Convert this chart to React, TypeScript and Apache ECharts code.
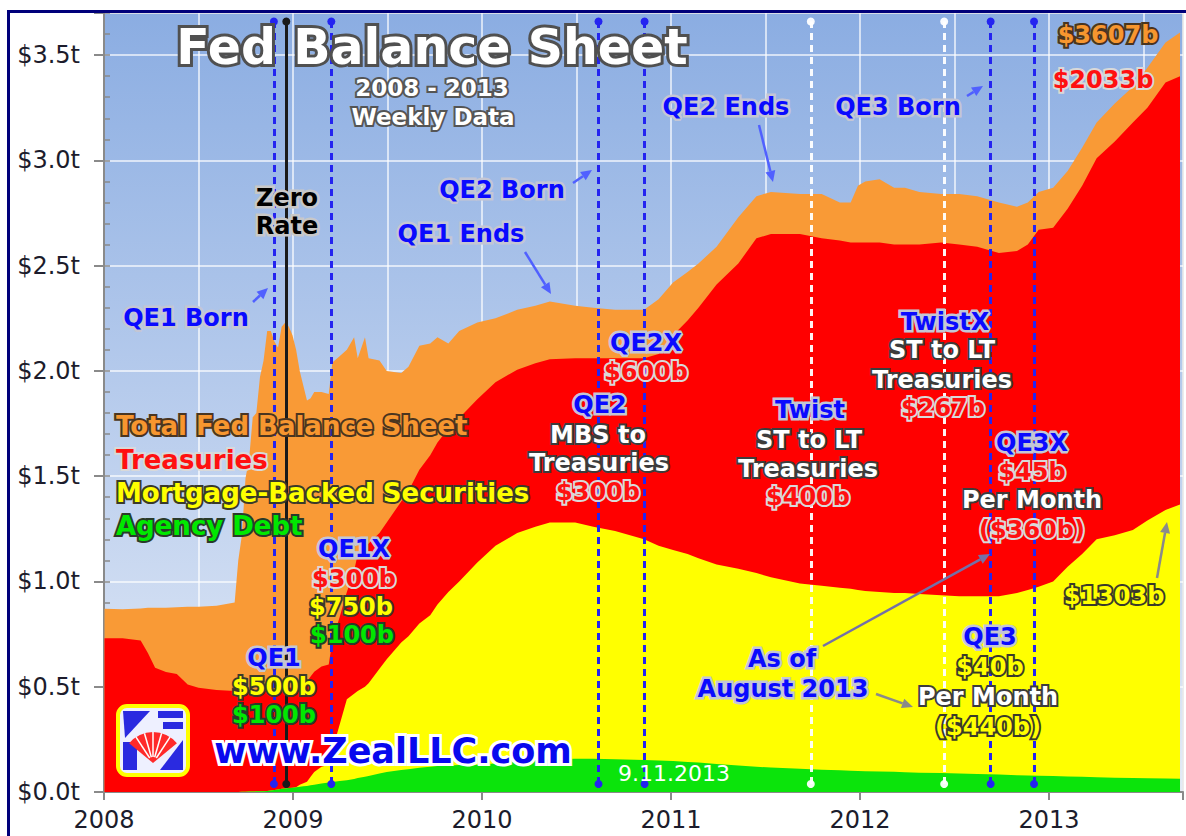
import React, { useEffect, useRef } from 'react';
import * as echarts from 'echarts';

// ---- DATA (billions of dollars, weekly H.4.1 readings, sampled) ----
const weeks = [
  '2008-01-02','2008-02-06','2008-03-12','2008-03-26','2008-04-09','2008-04-30','2008-05-21','2008-06-11','2008-07-02','2008-08-06',
  '2008-09-10','2008-09-17','2008-09-24','2008-10-01','2008-10-08','2008-10-15','2008-10-22','2008-10-29','2008-11-05','2008-11-12',
  '2008-11-19','2008-11-26','2008-12-03','2008-12-10','2008-12-17','2008-12-24','2008-12-31','2009-01-07','2009-01-14','2009-01-21',
  '2009-01-28','2009-02-04','2009-02-11','2009-02-25','2009-03-11','2009-03-18','2009-04-01','2009-04-15','2009-04-29','2009-05-06',
  '2009-05-20','2009-05-27','2009-06-17','2009-07-01','2009-07-29','2009-08-12','2009-09-02','2009-09-23','2009-10-07','2009-10-28',
  '2009-11-18','2009-12-23','2010-01-27','2010-03-10','2010-04-14','2010-05-12','2010-06-30','2010-08-04','2010-09-15','2010-11-10',
  '2010-12-08','2011-01-05','2011-02-02','2011-02-23','2011-03-30','2011-05-11','2011-06-15','2011-07-13','2011-09-07','2011-10-19',
  '2011-11-23','2011-12-14','2011-12-28','2012-01-11','2012-02-08','2012-03-07','2012-03-28','2012-04-25','2012-06-06','2012-07-11',
  '2012-08-15','2012-09-26','2012-10-31','2012-11-21','2012-12-12','2013-01-09','2013-02-06','2013-03-06','2013-04-03','2013-05-08',
  '2013-06-12','2013-07-10','2013-08-14','2013-09-11'
];

const totalB = [
  870,868,872,875,875,875,878,880,880,885,
  900,1100,1220,1490,1580,1780,1800,1970,2050,2190,
  2190,2140,2110,2210,2230,2210,2170,2100,2000,1930,
  1860,1870,1900,1900,1890,2040,2070,2100,2160,2060,
  2160,2060,2050,2000,1990,2020,2120,2130,2160,2130,
  2190,2230,2250,2290,2310,2330,2310,2300,2290,2290,
  2340,2420,2470,2510,2590,2730,2830,2850,2840,2840,
  2800,2800,2880,2900,2910,2870,2870,2850,2840,2840,
  2830,2800,2780,2800,2850,2870,2950,3060,3180,3270,
  3350,3440,3560,3607
];

const treasuriesB = [
  730,730,720,660,590,570,560,510,495,485,
  480,480,480,476,476,476,476,476,476,476,
  476,476,476,476,476,476,476,476,476,476,
  476,476,476,476,476,520,510,510,583,650,
  660,664,645,650,670,690,730,760,770,776,
  776,776,776,776,776,776,780,800,820,860,
  910,1020,1110,1190,1330,1450,1590,1630,1660,1650,
  1650,1645,1650,1655,1660,1655,1655,1660,1675,1670,
  1660,1630,1625,1640,1695,1680,1700,1750,1810,1870,
  1935,1960,2030,2033
];

const mbsB = [
  0,0,0,0,0,0,0,0,0,0,
  0,0,0,0,0,0,0,0,0,0,
  0,0,0,0,0,0,0,0,10,15,
  20,40,60,80,85,150,268,384,405,414,
  428,440,497,535,606,632,685,720,767,824,
  872,960,1035,1085,1108,1124,1122,1102,1084,1048,
  1020,1003,987,970,947,934,920,904,880,874,
  867,864,860,856,853,849,851,848,845,842,
  845,847,865,882,898,924,996,1058,1130,1152,
  1179,1225,1276,1303
];

const agencyB = [
  0,0,0,0,0,0,0,0,0,0,
  0,0,1,1,2,2,3,3,3,5,
  7,10,12,15,17,19,20,22,25,27,
  29,32,35,40,45,48,52,56,62,66,
  72,76,88,95,104,108,115,120,123,126,
  128,130,135,145,152,156,158,158,156,152,
  150,147,143,140,133,126,120,116,110,106,
  103,101,100,99,97,96,94,92,90,88,
  85,83,80,78,77,76,74,72,70,68,
  66,65,64,63
];

const yearLabels = [2008, 2009, 2010, 2011, 2012, 2013];
const yTickValues = [0, 0.5, 1, 1.5, 2, 2.5, 3, 3.5];

const events = [
  { date: '2008-11-25', kind: 'blue' },
  { date: '2008-12-19', kind: 'black' },
  { date: '2009-03-16', kind: 'blue' },
  { date: '2010-08-14', kind: 'blue' },
  { date: '2010-11-11', kind: 'blue' },
  { date: '2011-09-28', kind: 'white' },
  { date: '2012-06-12', kind: 'white' },
  { date: '2012-09-10', kind: 'blue' },
  { date: '2012-12-03', kind: 'blue' },
];

// ---- helpers ----
function toYear(s: string): number {
  const [y, m, d] = s.split('-').map(Number);
  const t = Date.UTC(y, m - 1, d);
  const a = Date.UTC(y, 0, 1);
  const b = Date.UTC(y + 1, 0, 1);
  return y + (t - a) / (b - a);
}

const FONT = '"DejaVu Sans", Verdana, sans-serif';

function txt(text: string, x: number, y: number, size: number, fill: string, stroke: string, lw = 4, extra: any = {}) {
  return {
    type: 'text',
    x, y, z: 100, silent: true,
    style: {
      text,
      font: `bold ${size}px ${FONT}`,
      fill, stroke, lineWidth: lw,
      align: extra.align || 'center', textAlign: extra.align || 'center',
      verticalAlign: 'middle', textVerticalAlign: 'middle',
      shadowColor: extra.shadowColor || 'rgba(0,0,0,0.35)',
      shadowBlur: extra.shadowBlur ?? 2,
      shadowOffsetX: extra.sx ?? 1,
      shadowOffsetY: extra.sy ?? 1,
    },
  };
}

function arrow(x1: number, y1: number, x2: number, y2: number, color: string, w = 2.5) {
  const ang = Math.atan2(y2 - y1, x2 - x1);
  const L = 11, W = 5;
  const bx = x2 - L * Math.cos(ang), by = y2 - L * Math.sin(ang);
  const px = -Math.sin(ang) * W, py = Math.cos(ang) * W;
  return [
    { type: 'line', z: 90, silent: true, shape: { x1, y1, x2: bx, y2: by }, style: { stroke: color, lineWidth: w } },
    { type: 'polygon', z: 90, silent: true, shape: { points: [[x2, y2], [bx + px, by + py], [bx - px, by - py]] }, style: { fill: color } },
  ];
}

const BLUE = '#0a0aff', BH = '#c4c6d4';
const WHITE = '#ffffff', WH = '#3c3c3c';
const RED = '#ff1010', RH = '#d9d9d9';
const YEL = '#ffff00', YH = '#3a3a2a';
const GRN = '#00e800', GH = '#2a3a2a';
const ORG = '#f7962f', OH = '#4a3520';
const S = 24; // annotation font size

export default function App() {
  const ref = useRef<HTMLDivElement>(null);

  useEffect(() => {
    if (!ref.current) return;
    const chart = echarts.init(ref.current, undefined, { renderer: 'svg', width: 1186, height: 836 });

    const X = weeks.map(toYear);
    // cumulative layer tops (stack order: agency, MBS, treasuries, rest of balance sheet)
    const topGreen = agencyB.map((v) => v);
    const topYellow = agencyB.map((v, i) => v + mbsB[i]);
    const topRed = agencyB.map((v, i) => v + mbsB[i] + treasuriesB[i]);
    const topOrange = totalB.map((v) => v);
    const mk = (arr: number[]) => arr.map((v, i) => [X[i], v / 1000]);
    const xMin = 2008, xMax = 2013.709, yMax = 3.7;

    const area = (name: string, arr: number[], color: string, z: number, extra: any = {}) => ({
      type: 'line', name, data: mk(arr), symbol: 'none', silent: true, z,
      lineStyle: { width: 0, color }, itemStyle: { color },
      areaStyle: { color, opacity: 1, origin: 'start' }, ...extra,
    });

    const evColor: any = { blue: '#2424f0', black: '#1a1a1a', white: 'rgba(255,255,255,0.95)' };
    const markData = events.map((e) => {
      const xv = toYear(e.date);
      const c = evColor[e.kind];
      const ls = { color: c, width: 3, type: e.kind === 'black' ? 'solid' : [7, 5] };
      return [
        { coord: [xv, 0.038], lineStyle: ls, itemStyle: { color: c } },
        { coord: [xv, 3.66], lineStyle: ls, itemStyle: { color: c } },
      ];
    });

    const isMult = (v: number, s: number) => Math.abs(v / s - Math.round(v / s)) < 1e-6;

    const graphics: any[] = [
      // outer frame
      { type: 'rect', z: 120, silent: true, shape: { x: 8.5, y: 11.5, width: 1200, height: 900 }, style: { fill: 'none', stroke: '#00007a', lineWidth: 3 } },
      // title
      txt('Fed Balance Sheet', 432, 47, 49, '#ffffff', '#505050', 6, { shadowBlur: 4, sx: 2, sy: 2, shadowColor: 'rgba(0,0,0,0.5)' }),
      txt('2008 - 2013', 432, 88, 23, '#ffffff', '#555555', 4),
      txt('Weekly Data', 433, 117, 23, '#ffffff', '#555555', 4),
      // blue event labels
      txt('QE1 Born', 186, 318, S, BLUE, BH, 5),
      txt('QE1 Ends', 461, 234, S, BLUE, BH, 5),
      txt('QE2 Born', 502, 190, S, BLUE, BH, 5),
      txt('QE2 Ends', 726, 107, S, BLUE, BH, 5),
      txt('QE3 Born', 898, 107, S, BLUE, BH, 5),
      txt('Zero', 287, 198, S, '#000000', '#c8c8c8', 5),
      txt('Rate', 287, 226, S, '#000000', '#c8c8c8', 5),
      // legend
      txt('Total Fed Balance Sheet', 116, 426, 26, ORG, OH, 4, { align: 'left' }),
      txt('Treasuries', 116, 460, 26, RED, RH, 4, { align: 'left' }),
      txt('Mortgage-Backed Securities', 116, 493, 26, YEL, YH, 4, { align: 'left' }),
      txt('Agency Debt', 116, 526, 26, GRN, GH, 4, { align: 'left' }),
      // QE1X
      txt('QE1X', 354, 549, S, BLUE, BH, 5),
      txt('$300b', 354, 579, S, RED, RH, 4),
      txt('$750b', 351, 607, S, YEL, YH, 4),
      txt('$100b', 352, 635, S, GRN, GH, 4),
      // QE1
      txt('QE1', 274, 658, S, BLUE, BH, 5),
      txt('$500b', 274, 687, S, YEL, YH, 4),
      txt('$100b', 274, 715, S, GRN, GH, 4),
      // QE2X
      txt('QE2X', 646, 343, S, BLUE, BH, 5),
      txt('$600b', 646, 372, S, RED, RH, 4),
      // QE2
      txt('QE2', 600, 405, S, BLUE, BH, 5),
      txt('MBS to', 598, 435, S, WHITE, WH, 4),
      txt('Treasuries', 599, 463, S, WHITE, WH, 4),
      txt('$300b', 598, 492, S, RED, RH, 4),
      // Twist
      txt('Twist', 810, 410, S, BLUE, BH, 5),
      txt('ST to LT', 809, 440, S, WHITE, WH, 4),
      txt('Treasuries', 808, 469, S, WHITE, WH, 4),
      txt('$400b', 808, 497, S, RED, RH, 4),
      // TwistX
      txt('TwistX', 945, 322, S, BLUE, BH, 5),
      txt('ST to LT', 942, 350, S, WHITE, WH, 4),
      txt('Treasuries', 942, 380, S, WHITE, WH, 4),
      txt('$267b', 943, 408, S, RED, RH, 4),
      // QE3X
      txt('QE3X', 1032, 443, S, BLUE, BH, 5),
      txt('$45b', 1032, 472, S, RED, RH, 4),
      txt('Per Month', 1032, 500, S, WHITE, WH, 4),
      txt('($360b)', 1032, 530, S, RED, RH, 4),
      // QE3
      txt('QE3', 990, 637, S, BLUE, BH, 5),
      txt('$40b', 990, 667, S, YEL, YH, 4),
      txt('Per Month', 988, 697, S, WHITE, WH, 4),
      txt('($440b)', 988, 727, S, YEL, YH, 4),
      // As of
      txt('As of', 782, 659, S, BLUE, BH, 5),
      txt('August 2013', 783, 689, S, BLUE, BH, 5),
      // end values
      txt('$3607b', 1108, 35, S, ORG, OH, 4),
      txt('$2033b', 1103, 80, S, RED, RH, 4),
      txt('$1303b', 1114, 596, S, YEL, YH, 4),
      // date stamp
      {
        type: 'text', x: 674, y: 773, z: 100, silent: true,
        style: { text: '9.11.2013', font: `22px ${FONT}`, fill: '#ffffff', align: 'center', textAlign: 'center', verticalAlign: 'middle', textVerticalAlign: 'middle' },
      },
      // website
      txt('www.ZealLLC.com', 393, 751, 35, '#0808ee', '#ffffff', 6, { shadowBlur: 3, sx: 1, sy: 1, shadowColor: 'rgba(0,0,0,0.6)' }),
      // logo
      { type: 'rect', z: 95, silent: true, shape: { x: 118, y: 706, width: 70, height: 69, r: 9 }, style: { fill: '#eef0ff', stroke: '#ffff00', lineWidth: 4 } },
      { type: 'polygon', z: 96, silent: true, shape: { points: [[123, 711], [150, 711], [125, 738]] }, style: { fill: '#2a2ae0' } },
      { type: 'polygon', z: 96, silent: true, shape: { points: [[123, 742], [137, 742], [137, 770], [123, 770]] }, style: { fill: '#2a2ae0' } },
      { type: 'polygon', z: 96, silent: true, shape: { points: [[158, 711], [183, 711], [183, 718], [158, 718]] }, style: { fill: '#2a2ae0' } },
      { type: 'polygon', z: 96, silent: true, shape: { points: [[163, 722], [183, 722], [183, 729], [163, 729]] }, style: { fill: '#2a2ae0' } },
      { type: 'polygon', z: 96, silent: true, shape: { points: [[183, 740], [183, 770], [160, 770]] }, style: { fill: '#2a2ae0' } },
      { type: 'sector', z: 97, silent: true, shape: { cx: 153, cy: 763, r: 31, r0: 0, startAngle: -2.45, endAngle: -0.69, clockwise: true }, style: { fill: '#ff2a2a' } },
      ...[-2.15, -1.85, -1.57, -1.29, -0.99].map((a) => ({
        type: 'line', z: 98, silent: true,
        shape: { x1: 153 + 6 * Math.cos(a), y1: 763 + 6 * Math.sin(a), x2: 153 + 31 * Math.cos(a), y2: 763 + 31 * Math.sin(a) },
        style: { stroke: '#ffffff', lineWidth: 1.5 },
      })),
      // arrows
      ...arrow(253, 302, 268, 288, '#5060ff'),
      ...arrow(525, 252, 551, 294, '#5060ff'),
      ...arrow(573, 183, 592, 170, '#5060ff'),
      ...arrow(759, 125, 773, 182, '#5060ff'),
      ...arrow(967, 96, 983, 86, '#5060ff'),
      ...arrow(823, 646, 990, 554, '#7470a8'),
      ...arrow(876, 694, 913, 707, '#8a8a8a'),
      ...arrow(1157, 578, 1167, 522, '#8a8a8a'),
    ];

    const option: any = {
      animation: false,
      backgroundColor: '#ffffff',
      grid: {
        left: 104, right: 3, top: 13, bottom: 44, show: true,
        borderColor: '#9a9a9a', borderWidth: 1,
        backgroundColor: new echarts.graphic.LinearGradient(0, 0, 0, 1, [
          { offset: 0, color: '#8badE2' },
          { offset: 1, color: '#e4ebf7' },
        ]),
      },
      xAxis: [
        {
          type: 'value', min: xMin, max: xMax, interval: 0.5,
          axisLine: { show: true, onZero: false, lineStyle: { color: '#8a8a8a', width: 2 } },
          axisTick: { show: false }, axisLabel: { show: false },
          splitLine: { show: true, lineStyle: { color: 'rgba(255,255,255,0.85)', width: 1.5 } },
        },
        {
          type: 'value', position: 'bottom', min: xMin, max: xMax, interval: 1,
          axisLine: { show: false },
          axisTick: { show: true, length: 8, lineStyle: { color: '#8a8a8a', width: 2 } },
          axisLabel: {
            show: true, margin: 16, fontSize: 24, fontFamily: FONT, color: '#1c1c2c',
            formatter: (v: number) => (yearLabels.includes(Math.round(v)) && isMult(v, 1) ? String(Math.round(v)) : ''),
          },
          splitLine: { show: false },
        },
      ],
      yAxis: [
        {
          type: 'value', min: 0, max: yMax, interval: 0.5,
          axisLine: { show: true, lineStyle: { color: '#8a8a8a', width: 2 } },
          axisTick: { show: true, length: 10, lineStyle: { color: '#8a8a8a', width: 2 } },
          axisLabel: {
            margin: 24, fontSize: 24, fontFamily: FONT, color: '#1c1c2c',
            formatter: (v: number) => (yTickValues.some((t) => Math.abs(t - v) < 1e-6) ? '$' + v.toFixed(1) + 't' : ''),
          },
          splitLine: { show: true, lineStyle: { color: 'rgba(255,255,255,0.85)', width: 1.5 } },
        },
        {
          type: 'value', position: 'left', min: 0, max: yMax, interval: 0.1,
          axisLine: { show: false },
          axisTick: { show: true, inside: true, length: 6, lineStyle: { color: '#8a8a8a', width: 1.5 } },
          axisLabel: { show: false },
          splitLine: { show: false },
        },
      ],
      series: [
        area('Total Fed Balance Sheet', topOrange, '#f99a36', 2),
        area('Treasuries', topRed, '#ff0000', 3),
        area('Mortgage-Backed Securities', topYellow, '#ffff00', 4),
        area('Agency Debt', topGreen, '#0be40b', 5, {
          markLine: {
            silent: true, animation: false, z: 10,
            symbol: ['circle', 'circle'], symbolSize: 8,
            label: { show: false },
            data: markData,
          },
        }),
      ],
      graphic: graphics,
    };

    chart.setOption(option);
    return () => chart.dispose();
  }, []);

  return (
    <div
      ref={ref}
      style={{ position: 'absolute', left: 0, top: 0, width: 1186, height: 836, background: '#ffffff' }}
    />
  );
}
